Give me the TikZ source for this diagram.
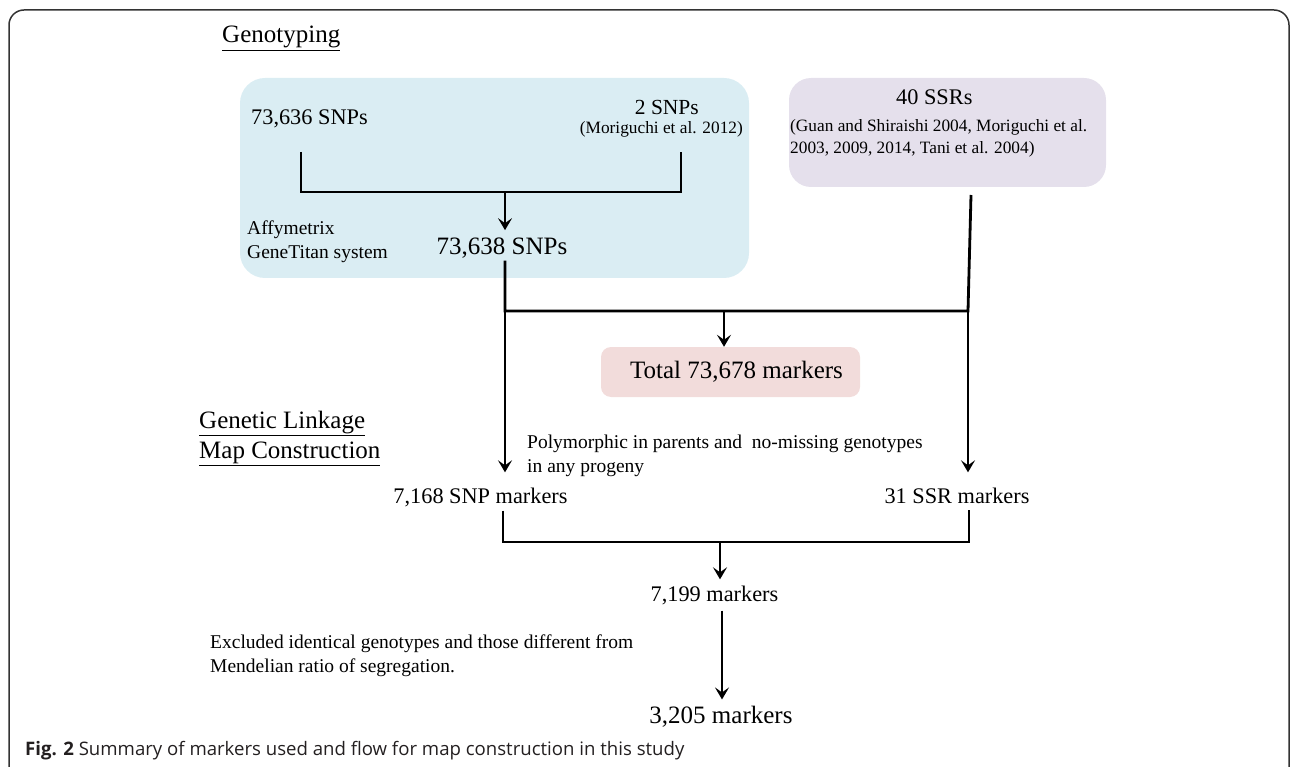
\documentclass[tikz,border=0pt]{standalone}
\usepackage{fontspec}
\setmainfont{Liberation Serif}
\newfontfamily\capfont{Open Sans}
\usetikzlibrary{arrows.meta}
\definecolor{boxblue}{HTML}{DAEDF3}
\definecolor{boxlav}{HTML}{E5E0EC}
\definecolor{boxpink}{HTML}{F2DCDB}
\definecolor{framec}{HTML}{333333}
\definecolor{captxt}{HTML}{231F20}
\begin{document}
\begin{tikzpicture}[x=1pt,y=-1pt,
  conn/.style={line width=2.8pt, black},
  arr/.style={conn, -{Stealth[length=12pt,width=14pt,inset=5pt]}},
  bigtxt/.style={inner sep=0pt, font=\fontsize{25}{30}\selectfont},
  midtxt/.style={inner sep=0pt, font=\fontsize{22.3}{27}\selectfont},
  smalltxt/.style={inner sep=0pt, align=left, font=\fontsize{19.5}{23.5}\selectfont},
  reftxt/.style={inner sep=0pt, align=left, font=\fontsize{17.3}{22}\selectfont},
  titletxt/.style={inner sep=0pt, align=left, font=\fontsize{25}{30}\selectfont},
  panel/.style={inner sep=0pt, draw=none}
]
\useasboundingbox (0,0) rectangle (1290,767);

% frame
\draw[framec, line width=1.5pt, rounded corners=15pt] (9,767) -- (9,10) -- (1289,10) -- (1289,767);

% coloured panels
\node[panel, fill=boxblue, rounded corners=25pt, minimum width=509pt, minimum height=200pt] (snpbox) at (494.5,178) {};
\node[panel, fill=boxlav, rounded corners=22pt, minimum width=317pt, minimum height=109pt] (ssrbox) at (947.5,132.5) {};
\node[panel, fill=boxpink, rounded corners=10pt, minimum width=259pt, minimum height=50pt, font=\fontsize{25}{30}\selectfont] (total) at (730.5,372) {\hspace*{12pt}Total 73,678 markers};

% titles
\node[titletxt, anchor=base west] (geno) at (222,43) {\underline{Genotyping}};
\node[titletxt, anchor=north west] (glm) at (199,411) {\underline{Genetic Linkage}\\\underline{Map Construction}};

% texts in the genotyping part
\node[midtxt, anchor=base west] (s73636) at (251,125) {73,636 SNPs};
\node[inner sep=0pt, font=\fontsize{21.5}{26}\selectfont, anchor=base east] (s2) at (699,115) {2 SNPs};
\node[reftxt, anchor=base east] (mor) at (743,134) {(Moriguchi et al. 2012)};
\node[smalltxt, anchor=north west] (affy) at (247,221) {Affymetrix\\GeneTitan system};
\node[bigtxt, anchor=base] (s73638) at (502,255) {73,638 SNPs};
\node[midtxt, anchor=base west] (ssr40) at (896,105) {40 SSRs};
\node[reftxt, anchor=north west] (guan) at (790,119) {(Guan and Shiraishi 2004, Moriguchi et al.\\2003, 2009, 2014, Tani et al. 2004)};

% map construction part
\node[smalltxt, anchor=north west] (poly) at (527,435) {Polymorphic in parents and\ \ no-missing genotypes\\in any progeny};
\node[midtxt, anchor=base] (snp7168) at (480.5,503) {7,168 SNP markers};
\node[midtxt, anchor=base] (ssr31) at (957,503) {31 SSR markers};
\node[midtxt, anchor=base] (m7199) at (714.5,601) {7,199 markers};
\node[smalltxt, anchor=north west] (excl) at (210,635) {Excluded identical genotypes and those different from\\Mendelian ratio of segregation.};
\node[bigtxt, anchor=base] (m3205) at (721,723) {3,205 markers};

% caption
\node[inner sep=0pt, anchor=base west, text=captxt, font=\capfont\fontsize{18.6}{22}\selectfont] (cap) at (25,755) {\textbf{Fig. 2} Summary of markers used and flow for map construction in this study};

% connector coordinates
\coordinate (jl) at (301,152);
\coordinate (jr) at (681,152);
\coordinate (jm) at (505,192);
\coordinate (h1) at (505,311);
\coordinate (h2) at (968,311);
\coordinate (h3) at (724,311);
\coordinate (ssrtop) at (971,195);
\coordinate (bl) at (503,542);
\coordinate (br) at (969,542);
\coordinate (bm) at (720,542);
\coordinate (ax) at (722,650);

% connectors
\draw[conn] (jl) -- (jl |- jm) -- (jr |- jm) -- (jr);
\draw[arr, shorten >=8pt] (jm) -- (jm |- s73638.north);
\draw[conn, shorten <=1.5pt] (s73638.south -| h1) -- (h1) -- (h2) -- (ssrtop);
\draw[arr] (h3) -- (h3 |- total.north);
\draw[arr, shorten >=15pt] (h1) -- (h1 |- snp7168.north);
\draw[arr, shorten >=15pt] (h2) -- (h2 |- ssr31.north);
\draw[conn, shorten <=4pt, shorten >=7pt] (snp7168.south -| bl) -- (bl) -- (br) -- (ssr31.south -| br);
\draw[arr, shorten >=6pt] (bm) -- (bm |- m7199.north);
\draw[arr, shorten <=6pt, shorten >=6pt] (m7199.south -| ax) -- (m3205.north -| ax);
\end{tikzpicture}
\end{document}
